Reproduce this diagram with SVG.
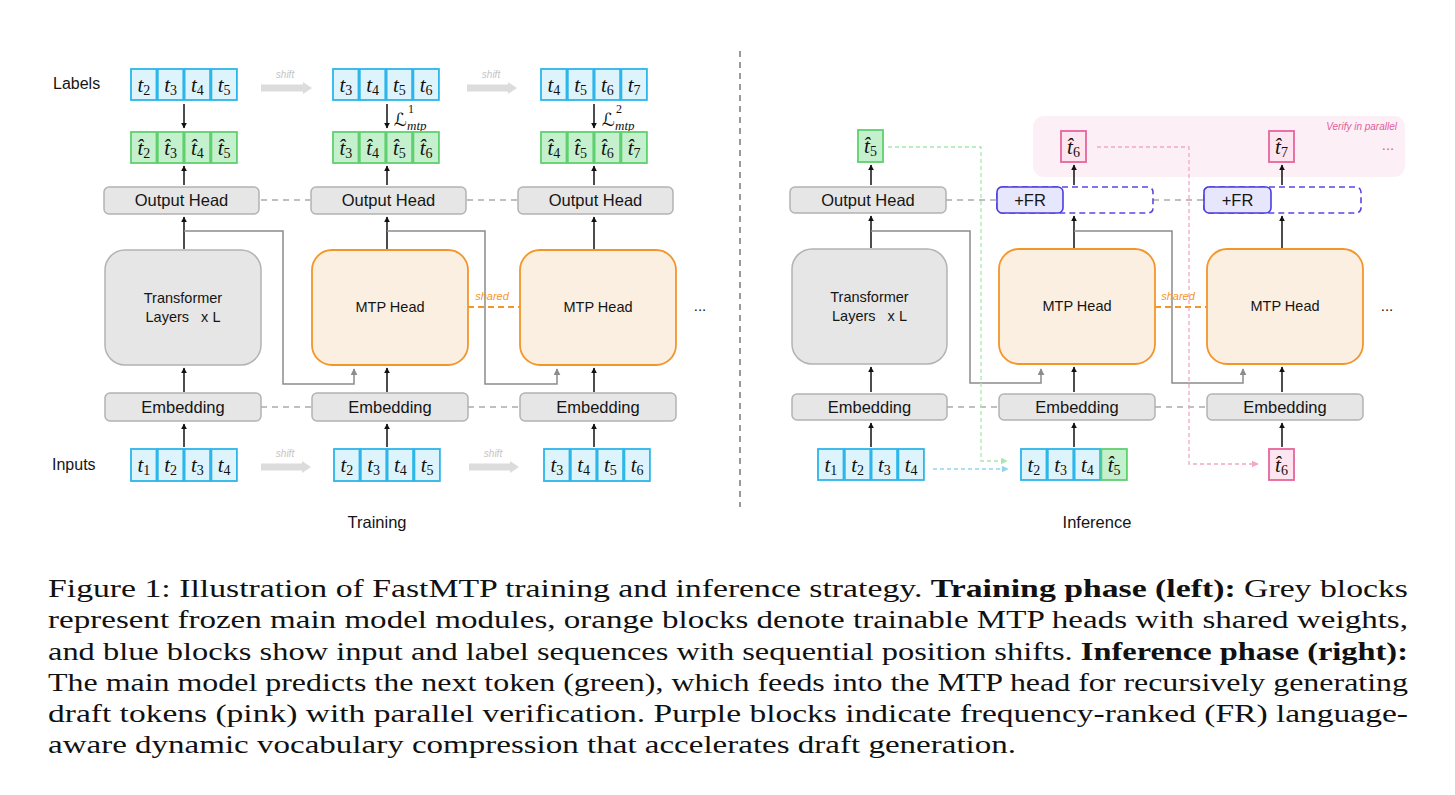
<svg xmlns="http://www.w3.org/2000/svg" width="1455" height="795" viewBox="0 0 1455 795">
<defs>
<style>
.bg{fill:#ffffff}
.grey{fill:#e6e6e6;stroke:#b3b3b3;stroke-width:1.5}
.orange{fill:#fbefe2;stroke:#f3962a;stroke-width:1.8}
.tb{fill:#ddf4fc;stroke:#2cb6ea;stroke-width:1.8}
.tg{fill:#c4f0cd;stroke:#5fd06e;stroke-width:1.8}
.tp{fill:#fde6f0;stroke:#e7649c;stroke-width:1.8}
.lbl{font-family:"Liberation Sans",Arial,sans-serif;font-size:16.5px;fill:#151515;text-anchor:middle}
.big{font-family:"Liberation Sans",Arial,sans-serif;font-size:14.5px;fill:#151515;text-anchor:middle}
.side{font-family:"Liberation Sans",Arial,sans-serif;font-size:16px;fill:#151515}
.m{font-family:"Liberation Serif","DejaVu Serif",serif;font-style:italic;font-size:21px;fill:#111;text-anchor:middle}
.s{font-style:normal;font-size:14px}
.shift{font-family:"Liberation Sans",Arial,sans-serif;font-style:italic;font-size:10px;fill:#c4c4c4;text-anchor:middle}
.sharr{fill:#dcdcdc}
.arr{stroke:#111;stroke-width:1.5;fill:none;marker-end:url(#ab)}
.skip{stroke:#8c8c8c;stroke-width:1.5;fill:none;marker-end:url(#ag)}
.gd{stroke:#ababab;stroke-width:1.5;fill:none;stroke-dasharray:6 5}
.od{stroke:#f3962a;stroke-width:1.8;fill:none;stroke-dasharray:6 4}
.shared{font-family:"Liberation Sans",Arial,sans-serif;font-style:italic;font-size:11px;fill:#f3962a;text-anchor:middle}
.cap{font-family:"Liberation Serif","Times New Roman",serif;font-size:25px;fill:#111}
.b{font-weight:bold}
</style>
<marker id="ab" viewBox="0 0 10 10" refX="9" refY="5" markerWidth="6" markerHeight="6" markerUnits="userSpaceOnUse" orient="auto"><path d="M0,0 L10,5 L0,10 z" fill="#111"/></marker>
<marker id="ag" viewBox="0 0 10 10" refX="9" refY="5" markerWidth="7" markerHeight="7" markerUnits="userSpaceOnUse" orient="auto"><path d="M0,0 L10,5 L0,10 z" fill="#8c8c8c"/></marker>
<marker id="agr" viewBox="0 0 10 10" refX="9" refY="5" markerWidth="7" markerHeight="7" markerUnits="userSpaceOnUse" orient="auto"><path d="M0,0 L10,5 L0,10 z" fill="#a6e8ae"/></marker>
<marker id="abl" viewBox="0 0 10 10" refX="9" refY="5" markerWidth="7" markerHeight="7" markerUnits="userSpaceOnUse" orient="auto"><path d="M0,0 L10,5 L0,10 z" fill="#92d4f0"/></marker>
<marker id="api" viewBox="0 0 10 10" refX="9" refY="5" markerWidth="7" markerHeight="7" markerUnits="userSpaceOnUse" orient="auto"><path d="M0,0 L10,5 L0,10 z" fill="#f4a6c8"/></marker>
</defs>
<rect class="bg" x="0" y="0" width="1455" height="795"/>

<!-- pink verify region -->
<g id="verify-region">
<rect x="1033" y="116" width="372" height="61" rx="11" fill="#fdeff6"/>
<text x="1397" y="130" font-family="Liberation Sans, Arial, sans-serif" font-style="italic" font-size="10" fill="#e0609a" text-anchor="end">Verify in parallel</text>
<text x="1388" y="150" font-family="Liberation Sans, Arial, sans-serif" font-size="15" fill="#e0609a" text-anchor="middle">...</text>
</g>

<!-- connectors -->
<g id="connectors">
<line x1="740" y1="51" x2="740" y2="507" stroke="#9a9a9a" stroke-width="2" stroke-dasharray="6 5"/>
<polygon class="sharr" points="261,84.5 303,84.5 303,82 312,88 303,94 303,91.5 261,91.5"/>
<polygon class="sharr" points="467,84.5 508,84.5 508,82 517,88 508,94 508,91.5 467,91.5"/>
<polygon class="sharr" points="261,463.5 302,463.5 302,461 311,467 302,473 302,470.5 261,470.5"/>
<polygon class="sharr" points="469,463.5 510,463.5 510,461 519,467 510,473 510,470.5 469,470.5"/>
<text class="shift" x="285" y="78">shift</text>
<text class="shift" x="491" y="78">shift</text>
<text class="shift" x="285" y="457">shift</text>
<text class="shift" x="493" y="457">shift</text>
<line class="arr" x1="184" y1="104" x2="184" y2="128"/>
<line class="arr" x1="387" y1="104" x2="387" y2="128"/>
<line class="arr" x1="594" y1="104" x2="594" y2="128"/>
<line class="arr" x1="184" y1="185" x2="184" y2="166"/>
<line class="arr" x1="387" y1="185" x2="387" y2="166"/>
<line class="arr" x1="594" y1="185" x2="594" y2="166"/>
<line class="arr" x1="184" y1="249" x2="184" y2="217"/>
<line class="arr" x1="387" y1="249" x2="387" y2="217"/>
<line class="arr" x1="594" y1="249" x2="594" y2="217"/>
<line class="arr" x1="184" y1="392" x2="184" y2="368"/>
<line class="arr" x1="387" y1="392" x2="387" y2="368"/>
<line class="arr" x1="594" y1="392" x2="594" y2="368"/>
<line class="arr" x1="184" y1="447" x2="184" y2="424"/>
<line class="arr" x1="387" y1="447" x2="387" y2="424"/>
<line class="arr" x1="594" y1="447" x2="594" y2="424"/>
<path class="skip" d="M184,231 H283 V384 H354 V369"/>
<path class="skip" d="M387,231 H485 V384 H557 V369"/>
<line class="gd" x1="261" y1="200" x2="310" y2="200"/>
<line class="gd" x1="467" y1="200" x2="518" y2="200"/>
<line class="gd" x1="261" y1="407" x2="312" y2="407"/>
<line class="gd" x1="468" y1="407" x2="520" y2="407"/>
<line class="od" x1="468" y1="307" x2="520" y2="307"/>
<text class="shared" x="492" y="300">shared</text>
<line class="arr" x1="871" y1="185" x2="871" y2="165"/>
<line class="arr" x1="1074" y1="185" x2="1074" y2="165"/>
<line class="arr" x1="1282" y1="185" x2="1282" y2="165"/>
<line class="arr" x1="871" y1="248" x2="871" y2="216"/>
<line class="arr" x1="1074" y1="248" x2="1074" y2="216"/>
<line class="arr" x1="1282" y1="248" x2="1282" y2="216"/>
<line class="arr" x1="871" y1="392" x2="871" y2="367"/>
<line class="arr" x1="1074" y1="392" x2="1074" y2="367"/>
<line class="arr" x1="1282" y1="392" x2="1282" y2="367"/>
<line class="arr" x1="871" y1="447" x2="871" y2="423"/>
<line class="arr" x1="1074" y1="447" x2="1074" y2="423"/>
<line class="arr" x1="1282" y1="447" x2="1282" y2="423"/>
<path class="skip" d="M871,231 H970 V383 H1041 V369"/>
<path class="skip" d="M1074,231 H1172 V383 H1243 V369"/>
<line class="gd" x1="946" y1="200" x2="997" y2="200"/>
<line class="gd" x1="1153" y1="200" x2="1204" y2="200"/>
<line class="gd" x1="947" y1="407" x2="999" y2="407"/>
<line class="gd" x1="1155" y1="407" x2="1207" y2="407"/>
<line class="od" x1="1155" y1="307" x2="1207" y2="307"/>
<text class="shared" x="1178" y="300">shared</text>
<path d="M888,147 H981 V461 H1007" fill="none" stroke="#a6e8ae" stroke-width="1.3" stroke-dasharray="4 3" marker-end="url(#agr)"/>
<path d="M933,469 H1008" fill="none" stroke="#92d4f0" stroke-width="1.5" stroke-dasharray="4 3" marker-end="url(#abl)"/>
<path d="M1097,147 H1189 V464 H1258" fill="none" stroke="#f4a6c8" stroke-width="1.3" stroke-dasharray="4 3" marker-end="url(#api)"/>
</g>

<g id="side-labels">
<text class="side" x="53" y="89">Labels</text>
<text class="side" x="52" y="470">Inputs</text>
<text class="lbl" x="377" y="528">Training</text>
<text class="lbl" x="1097" y="528">Inference</text>
<text x="700" y="311" font-family="Liberation Sans, Arial, sans-serif" font-size="15" fill="#111" text-anchor="middle">...</text>
<text x="1387" y="311" font-family="Liberation Sans, Arial, sans-serif" font-size="15" fill="#111" text-anchor="middle">...</text>
</g>

<g id="loss1">
<text x="394" y="126" font-family="DejaVu Serif, DejaVu Sans, serif" font-size="18" fill="#111">ℒ</text>
<text x="408" y="113" font-family="Liberation Serif, serif" font-size="12" fill="#111">1</text>
<text x="407" y="130" font-family="Liberation Serif, serif" font-style="italic" font-size="13" fill="#111">mtp</text>
</g>
<g id="loss2">
<text x="602" y="126" font-family="DejaVu Serif, DejaVu Sans, serif" font-size="18" fill="#111">ℒ</text>
<text x="616" y="113" font-family="Liberation Serif, serif" font-size="12" fill="#111">2</text>
<text x="615" y="130" font-family="Liberation Serif, serif" font-style="italic" font-size="13" fill="#111">mtp</text>
</g>

<g id="labels-1">
<rect class="tb" x="131" y="69" width="25.5" height="31"/><rect class="tb" x="157.8" y="69" width="25.5" height="31"/><rect class="tb" x="184.6" y="69" width="25.5" height="31"/><rect class="tb" x="211.4" y="69" width="25.5" height="31"/>
<text class="m" x="143.8" y="92">t<tspan class="s" dy="3">2</tspan></text><text class="m" x="170.6" y="92">t<tspan class="s" dy="3">3</tspan></text><text class="m" x="197.4" y="92">t<tspan class="s" dy="3">4</tspan></text><text class="m" x="224.2" y="92">t<tspan class="s" dy="3">5</tspan></text>
</g>
<g id="labels-2">
<rect class="tb" x="333" y="69" width="25.5" height="31"/><rect class="tb" x="359.8" y="69" width="25.5" height="31"/><rect class="tb" x="386.6" y="69" width="25.5" height="31"/><rect class="tb" x="413.4" y="69" width="25.5" height="31"/>
<text class="m" x="345.8" y="92">t<tspan class="s" dy="3">3</tspan></text><text class="m" x="372.6" y="92">t<tspan class="s" dy="3">4</tspan></text><text class="m" x="399.4" y="92">t<tspan class="s" dy="3">5</tspan></text><text class="m" x="426.2" y="92">t<tspan class="s" dy="3">6</tspan></text>
</g>
<g id="labels-3">
<rect class="tb" x="541" y="69" width="25.5" height="31"/><rect class="tb" x="567.8" y="69" width="25.5" height="31"/><rect class="tb" x="594.6" y="69" width="25.5" height="31"/><rect class="tb" x="621.4" y="69" width="25.5" height="31"/>
<text class="m" x="553.8" y="92">t<tspan class="s" dy="3">4</tspan></text><text class="m" x="580.6" y="92">t<tspan class="s" dy="3">5</tspan></text><text class="m" x="607.4" y="92">t<tspan class="s" dy="3">6</tspan></text><text class="m" x="634.2" y="92">t<tspan class="s" dy="3">7</tspan></text>
</g>
<g id="pred-1">
<rect class="tg" x="131" y="132" width="25.5" height="31"/><rect class="tg" x="157.8" y="132" width="25.5" height="31"/><rect class="tg" x="184.6" y="132" width="25.5" height="31"/><rect class="tg" x="211.4" y="132" width="25.5" height="31"/>
<text class="m" x="143.8" y="155">t&#x302;<tspan class="s" dy="3">2</tspan></text><text class="m" x="170.6" y="155">t&#x302;<tspan class="s" dy="3">3</tspan></text><text class="m" x="197.4" y="155">t&#x302;<tspan class="s" dy="3">4</tspan></text><text class="m" x="224.2" y="155">t&#x302;<tspan class="s" dy="3">5</tspan></text>
</g>
<g id="pred-2">
<rect class="tg" x="333" y="132" width="25.5" height="31"/><rect class="tg" x="359.8" y="132" width="25.5" height="31"/><rect class="tg" x="386.6" y="132" width="25.5" height="31"/><rect class="tg" x="413.4" y="132" width="25.5" height="31"/>
<text class="m" x="345.8" y="155">t&#x302;<tspan class="s" dy="3">3</tspan></text><text class="m" x="372.6" y="155">t&#x302;<tspan class="s" dy="3">4</tspan></text><text class="m" x="399.4" y="155">t&#x302;<tspan class="s" dy="3">5</tspan></text><text class="m" x="426.2" y="155">t&#x302;<tspan class="s" dy="3">6</tspan></text>
</g>
<g id="pred-3">
<rect class="tg" x="541" y="132" width="25.5" height="31"/><rect class="tg" x="567.8" y="132" width="25.5" height="31"/><rect class="tg" x="594.6" y="132" width="25.5" height="31"/><rect class="tg" x="621.4" y="132" width="25.5" height="31"/>
<text class="m" x="553.8" y="155">t&#x302;<tspan class="s" dy="3">4</tspan></text><text class="m" x="580.6" y="155">t&#x302;<tspan class="s" dy="3">5</tspan></text><text class="m" x="607.4" y="155">t&#x302;<tspan class="s" dy="3">6</tspan></text><text class="m" x="634.2" y="155">t&#x302;<tspan class="s" dy="3">7</tspan></text>
</g>
<g id="train-output-1"><rect class="grey" x="104" y="187" width="155" height="27" rx="5"/><text class="lbl" x="181.5" y="206">Output Head</text></g>
<g id="train-output-2"><rect class="grey" x="311" y="187" width="155" height="27" rx="5"/><text class="lbl" x="388.5" y="206">Output Head</text></g>
<g id="train-output-3"><rect class="grey" x="518" y="187" width="155" height="27" rx="5"/><text class="lbl" x="595.5" y="206">Output Head</text></g>
<g id="train-transformer"><rect class="grey" x="105" y="250" width="156" height="115" rx="20"/><text class="big" x="183" y="303">Transformer</text><text class="big" x="183" y="322" xml:space="preserve">Layers   x L</text></g>
<g id="train-mtp-1"><rect class="orange" x="312" y="250" width="156" height="115" rx="20"/><text class="big" x="390" y="312">MTP Head</text></g>
<g id="train-mtp-2"><rect class="orange" x="520" y="250" width="156" height="115" rx="20"/><text class="big" x="598" y="312">MTP Head</text></g>
<g id="train-emb-1"><rect class="grey" x="105" y="393" width="156" height="28" rx="5"/><text class="lbl" x="183" y="413">Embedding</text></g>
<g id="train-emb-2"><rect class="grey" x="312" y="393" width="156" height="28" rx="5"/><text class="lbl" x="390" y="413">Embedding</text></g>
<g id="train-emb-3"><rect class="grey" x="520" y="393" width="156" height="28" rx="5"/><text class="lbl" x="598" y="413">Embedding</text></g>
<g id="inputs-1">
<rect class="tb" x="131" y="449" width="25.5" height="32"/><rect class="tb" x="157.8" y="449" width="25.5" height="32"/><rect class="tb" x="184.6" y="449" width="25.5" height="32"/><rect class="tb" x="211.4" y="449" width="25.5" height="32"/>
<text class="m" x="143.8" y="472">t<tspan class="s" dy="3">1</tspan></text><text class="m" x="170.6" y="472">t<tspan class="s" dy="3">2</tspan></text><text class="m" x="197.4" y="472">t<tspan class="s" dy="3">3</tspan></text><text class="m" x="224.2" y="472">t<tspan class="s" dy="3">4</tspan></text>
</g>
<g id="inputs-2">
<rect class="tb" x="334" y="449" width="25.5" height="32"/><rect class="tb" x="360.8" y="449" width="25.5" height="32"/><rect class="tb" x="387.6" y="449" width="25.5" height="32"/><rect class="tb" x="414.4" y="449" width="25.5" height="32"/>
<text class="m" x="346.8" y="472">t<tspan class="s" dy="3">2</tspan></text><text class="m" x="373.6" y="472">t<tspan class="s" dy="3">3</tspan></text><text class="m" x="400.4" y="472">t<tspan class="s" dy="3">4</tspan></text><text class="m" x="427.2" y="472">t<tspan class="s" dy="3">5</tspan></text>
</g>
<g id="inputs-3">
<rect class="tb" x="544" y="449" width="25.5" height="32"/><rect class="tb" x="570.8" y="449" width="25.5" height="32"/><rect class="tb" x="597.6" y="449" width="25.5" height="32"/><rect class="tb" x="624.4" y="449" width="25.5" height="32"/>
<text class="m" x="556.8" y="472">t<tspan class="s" dy="3">3</tspan></text><text class="m" x="583.6" y="472">t<tspan class="s" dy="3">4</tspan></text><text class="m" x="610.4" y="472">t<tspan class="s" dy="3">5</tspan></text><text class="m" x="637.2" y="472">t<tspan class="s" dy="3">6</tspan></text>
</g>

<g id="inf-t5"><rect class="tg" x="858" y="130" width="25" height="32"/><text class="m" x="870.5" y="153">t&#x302;<tspan class="s" dy="3">5</tspan></text></g>
<g id="inf-t6"><rect class="tp" x="1061" y="131" width="25" height="31"/><text class="m" x="1073.5" y="154">t&#x302;<tspan class="s" dy="3">6</tspan></text></g>
<g id="inf-t7"><rect class="tp" x="1269" y="131" width="25" height="31"/><text class="m" x="1281.5" y="154">t&#x302;<tspan class="s" dy="3">7</tspan></text></g>
<g id="inf-output"><rect class="grey" x="790" y="187" width="156" height="26" rx="5"/><text class="lbl" x="868" y="206">Output Head</text></g>
<g id="inf-fr-1"><rect x="997" y="187" width="156" height="26" rx="5" fill="none" stroke="#5a46e4" stroke-width="1.6" stroke-dasharray="6 4"/><rect x="997" y="187" width="66" height="26" rx="5" fill="#e6e6fc" stroke="#4c3de0" stroke-width="1.6"/><text class="lbl" x="1030" y="206">+FR</text></g>
<g id="inf-fr-2"><rect x="1204" y="187" width="157" height="26" rx="5" fill="none" stroke="#5a46e4" stroke-width="1.6" stroke-dasharray="6 4"/><rect x="1204" y="187" width="67" height="26" rx="5" fill="#e6e6fc" stroke="#4c3de0" stroke-width="1.6"/><text class="lbl" x="1237.5" y="206">+FR</text></g>
<g id="inf-transformer"><rect class="grey" x="792" y="249" width="155" height="115" rx="20"/><text class="big" x="869.5" y="302">Transformer</text><text class="big" x="869.5" y="321" xml:space="preserve">Layers   x L</text></g>
<g id="inf-mtp-1"><rect class="orange" x="999" y="249" width="156" height="115" rx="20"/><text class="big" x="1077" y="311">MTP Head</text></g>
<g id="inf-mtp-2"><rect class="orange" x="1207" y="249" width="156" height="115" rx="20"/><text class="big" x="1285" y="311">MTP Head</text></g>
<g id="inf-emb-1"><rect class="grey" x="792" y="394" width="155" height="26" rx="5"/><text class="lbl" x="869.5" y="413">Embedding</text></g>
<g id="inf-emb-2"><rect class="grey" x="999" y="394" width="156" height="26" rx="5"/><text class="lbl" x="1077" y="413">Embedding</text></g>
<g id="inf-emb-3"><rect class="grey" x="1207" y="394" width="156" height="26" rx="5"/><text class="lbl" x="1285" y="413">Embedding</text></g>
<g id="inf-inputs-1">
<rect class="tb" x="818" y="449" width="25.5" height="31"/><rect class="tb" x="844.8" y="449" width="25.5" height="31"/><rect class="tb" x="871.6" y="449" width="25.5" height="31"/><rect class="tb" x="898.4" y="449" width="25.5" height="31"/>
<text class="m" x="830.8" y="472">t<tspan class="s" dy="3">1</tspan></text><text class="m" x="857.6" y="472">t<tspan class="s" dy="3">2</tspan></text><text class="m" x="884.4" y="472">t<tspan class="s" dy="3">3</tspan></text><text class="m" x="911.2" y="472">t<tspan class="s" dy="3">4</tspan></text>
</g>
<g id="inf-inputs-2">
<rect class="tb" x="1021" y="449" width="25.5" height="31"/><rect class="tb" x="1047.8" y="449" width="25.5" height="31"/><rect class="tb" x="1074.6" y="449" width="25.5" height="31"/><rect class="tg" x="1101.4" y="449" width="25.5" height="31"/>
<text class="m" x="1033.8" y="472">t<tspan class="s" dy="3">2</tspan></text><text class="m" x="1060.6" y="472">t<tspan class="s" dy="3">3</tspan></text><text class="m" x="1087.4" y="472">t<tspan class="s" dy="3">4</tspan></text><text class="m" x="1114.2" y="472">t&#x302;<tspan class="s" dy="3">5</tspan></text>
</g>
<g id="inf-inputs-3"><rect class="tp" x="1269" y="449" width="25" height="31"/><text class="m" x="1281.5" y="472">t&#x302;<tspan class="s" dy="3">6</tspan></text></g>

<g id="caption">
<text class="cap" x="48" y="597" textLength="1360" lengthAdjust="spacingAndGlyphs">Figure 1: Illustration of FastMTP training and inference strategy.  <tspan class="b">Training phase (left):</tspan> Grey blocks</text>
<text class="cap" x="48" y="628" textLength="1360" lengthAdjust="spacingAndGlyphs">represent frozen main model modules, orange blocks denote trainable MTP heads with shared weights,</text>
<text class="cap" x="48" y="659.5" textLength="1360" lengthAdjust="spacingAndGlyphs">and blue blocks show input and label sequences with sequential position shifts. <tspan class="b">Inference phase (right):</tspan></text>
<text class="cap" x="48" y="691" textLength="1360" lengthAdjust="spacingAndGlyphs">The main model predicts the next token (green), which feeds into the MTP head for recursively generating</text>
<text class="cap" x="48" y="722" textLength="1360" lengthAdjust="spacingAndGlyphs">draft tokens (pink) with parallel verification. Purple blocks indicate frequency-ranked (FR) language-</text>
<text class="cap" x="48" y="753" textLength="968" lengthAdjust="spacingAndGlyphs">aware dynamic vocabulary compression that accelerates draft generation.</text>
</g>
</svg>
